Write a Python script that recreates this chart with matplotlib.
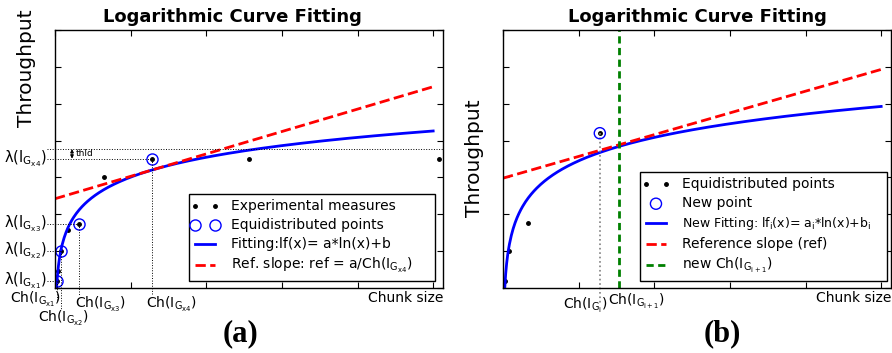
"""
log_fit_figure.py
Two panels showing the logarithmic curve fitting of throughput vs chunk size.
Saves out.png.
"""

import numpy as np
import matplotlib
matplotlib.use("Agg")
import matplotlib.pyplot as plt
from matplotlib.lines import Line2D
from matplotlib.legend_handler import HandlerLine2D

# ---------------------------------------------------------------------------
# Data (arbitrary units)
# ---------------------------------------------------------------------------

# panel (a): experimental measures
exp_x = [0.026, 0.044, 0.073, 0.168, 0.311, 0.648, 1.28, 2.57, 5.08]
exp_y = [0.19, 0.46, 1.00, 1.57, 1.74, 3.01, 3.51, 3.51, 3.51]

# panel (a): equidistributed points
eq_x = [0.026, 0.073, 0.311, 1.28]
eq_y = [0.19, 1.00, 1.74, 3.51]
eq_tags = ["x1", "x2", "x3", "x4"]

fit_a, fit_b = 0.778, 3.008     # lf(x) = a*ln(x)+b
thld = 0.26

# panel (b)
pts_x = [0.026, 0.079, 0.33, 1.28]
pts_y = [0.19, 1.00, 1.76, 4.20]
new_x = [1.28]
new_y = [4.20]
fit_ai, fit_bi = 0.917, 3.45
ref_b_slope, ref_b_icpt = 0.59, 2.98
next_ch = 1.54

X_MAX = 5.13
Y_MAX = 7

BLUE = "#0000ff"
RED = "#ff0000"
GREEN = "#008000"

W, H = 892, 353
fig = plt.figure(figsize=(W / 100, H / 100), dpi=100)


def fx(p):
    return p / W


def fy(p):
    return 1 - p / H


def sub(tag):
    return r"$\mathrm{I}_{\mathrm{G}_{\mathrm{" + tag + "}}}$"


def style_axes(ax):
    ax.set_xlim(0, X_MAX)
    ax.set_ylim(0, Y_MAX)
    ax.set_xticks(range(6))
    ax.set_yticks(range(Y_MAX + 1))
    ax.set_xticklabels([])
    ax.set_yticklabels([])
    ax.tick_params(direction="in", top=True, right=True, length=4, width=0.8)
    for s in ax.spines.values():
        s.set_linewidth(1.0)


def boxed_legend(ax, px_left, px_right, px_bottom, ax_left):
    # legend box stretched to the span measured on the reference
    x0 = (px_left - ax_left) / 388
    w = (px_right - px_left) / 388
    y0 = (288 - px_bottom) / 258
    leg = ax.legend(loc="lower left", bbox_to_anchor=(x0, y0, w, 0.1), mode="expand",
                    borderaxespad=0, numpoints=2, scatterpoints=1, fontsize=10,
                    fancybox=False, edgecolor="k", handlelength=1.5,
                    handletextpad=1.1, borderpad=0.4, labelspacing=0.36,
                    framealpha=1, handler_map={Line2D: HandlerLine2D(marker_pad=0)})
    leg.get_frame().set_linewidth(1.0)
    return leg


ax_a = fig.add_axes([fx(55), fy(288), fx(388), 258 / H])
ax_b = fig.add_axes([fx(503), fy(288), fx(388), 258 / H])

# ---------------------------------------------------------------------------
# Panel (a)
# ---------------------------------------------------------------------------
style_axes(ax_a)
xs = np.linspace(0.021, 5.0, 400)
x4, y4fit = eq_x[3], fit_a * np.log(eq_x[3]) + fit_b
ref = fit_a / x4

ax_a.plot(exp_x, exp_y, "o", color="k", ms=2.5, ls="none", label="Experimental measures")
ax_a.plot(eq_x, eq_y, "o", mfc="none", mec=BLUE, mew=1.0, ms=8, ls="none",
          label="Equidistributed points")
ax_a.plot(xs, fit_a * np.log(xs) + fit_b, color=BLUE, lw=2,
          label="Fitting:lf(x)= a*ln(x)+b")
xr = np.array([0, 5.0])
ax_a.plot(xr, y4fit + ref * (xr - x4), color=RED, lw=2, ls="--",
          label="Ref. slope: ref = a/Ch(" + sub("x4") + ")")

# guides
lx = -0.106
for x, y in zip(eq_x, eq_y):
    ax_a.plot([lx, x], [y, y], color="k", lw=0.7, ls=":", clip_on=False)
ax_a.plot([lx, X_MAX], [eq_y[3] + thld] * 2, color="k", lw=0.7, ls=":", clip_on=False)
for x, y, yb in zip(eq_x, eq_y, [-0.33, -0.6, -0.2, -0.2]):
    ax_a.plot([x, x], [y, yb], color="k", lw=0.7, ls=":", clip_on=False)

ax_a.annotate("", xy=(0.225, eq_y[3] + thld), xytext=(0.225, eq_y[3]),
              arrowprops=dict(arrowstyle="<|-|>", lw=0.7, color="k",
                              mutation_scale=5, shrinkA=0, shrinkB=0))
ax_a.text(0.27, eq_y[3] + thld / 2, "thld", fontsize=6.5, va="center", ha="left")

for y, tag in zip(eq_y, eq_tags):
    ax_a.text(lx, y, "λ(" + sub(tag) + ")", fontsize=10.5,
              ha="right", va="center", clip_on=False)

for (cx, cy), tag in zip([(35, 299), (63, 318), (100, 304), (171, 304)], eq_tags):
    fig.text(fx(cx), fy(cy), "Ch(" + sub(tag) + ")", fontsize=10,
             ha="center", va="center")

boxed_legend(ax_a, 189, 435, 281, 55)

fig.text(fx(443), fy(298), "Chunk size", fontsize=10, ha="right", va="center")
fig.text(fx(232), fy(17), "Logarithmic Curve Fitting", fontsize=13,
         fontweight="bold", ha="center", va="center")
fig.text(fx(27), fy(68), "Throughput", fontsize=14.5, rotation=90,
         ha="center", va="center")
fig.text(fx(241), fy(334), "(a)", fontsize=22, fontweight="bold",
         family="Liberation Serif", ha="center", va="center")

# ---------------------------------------------------------------------------
# Panel (b)
# ---------------------------------------------------------------------------
style_axes(ax_b)
xs_b = np.linspace(0.023, 5.0, 400)

ax_b.plot(pts_x, pts_y, "o", color="k", ms=2.5, ls="none", label="Equidistributed points")
ax_b.scatter(new_x, new_y, s=64, facecolors="none", edgecolors=BLUE, lw=1.0,
             label="New point", zorder=3)
ax_b.plot(xs_b, fit_ai * np.log(xs_b) + fit_bi, color=BLUE, lw=2,
          label=r"New Fitting: lf$_\mathrm{i}$(x)= a$_\mathrm{i}$*ln(x)+b$_\mathrm{i}$")
ax_b.plot(xr, ref_b_icpt + ref_b_slope * xr, color=RED, lw=2, ls="--",
          label="Reference slope (ref)")
ax_b.axvline(next_ch, color=GREEN, lw=2, ls=(0, (2.6, 1.6)),
             label=r"new Ch($\mathrm{I}_{\mathrm{G}_{\mathrm{i+1}}}$)")

ax_b.plot([new_x[0], new_x[0]], [new_y[0], -0.4], color="gray", lw=1.2, ls=":",
          clip_on=False)

fig.text(fx(585), fy(305), r"Ch($\mathrm{I}_{\mathrm{G}_{\mathrm{i}}}$)", fontsize=10,
         ha="center", va="center")
fig.text(fx(637), fy(301), r"Ch($\mathrm{I}_{\mathrm{G}_{\mathrm{i+1}}}$)", fontsize=10,
         ha="center", va="center")

leg_b = boxed_legend(ax_b, 640, 887, 281, 503)
leg_b.get_texts()[2].set_fontsize(9)

fig.text(fx(891), fy(298), "Chunk size", fontsize=10, ha="right", va="center")
fig.text(fx(697), fy(17), "Logarithmic Curve Fitting", fontsize=13,
         fontweight="bold", ha="center", va="center")
fig.text(fx(474), fy(158), "Throughput", fontsize=14.5, rotation=90,
         ha="center", va="center")
fig.text(fx(722), fy(334), "(b)", fontsize=22, fontweight="bold",
         family="Liberation Serif", ha="center", va="center")

fig.savefig("out.png", dpi=100)
